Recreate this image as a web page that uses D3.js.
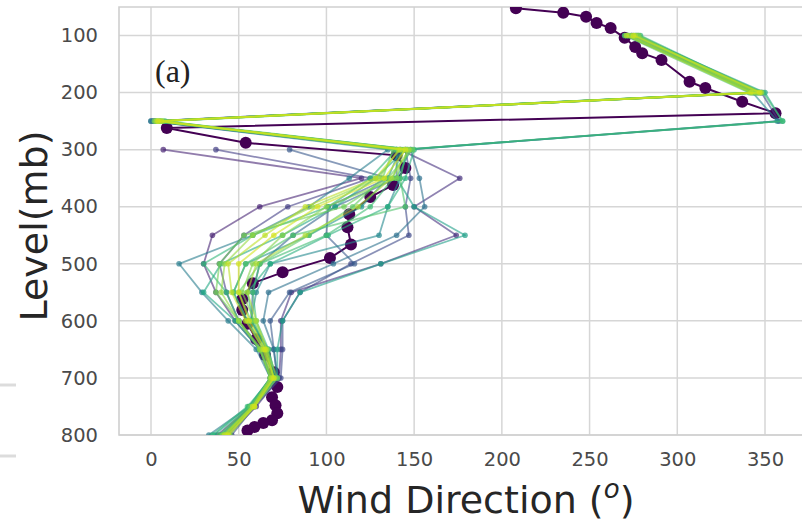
<!DOCTYPE html>
<html>
<head>
<meta charset="utf-8">
<script src="https://cdn.jsdelivr.net/npm/d3@7"></script>
<style>
  body { margin: 0; background: #fff; }
  svg { display: block; }
</style>
</head>
<body>
<svg id="chart" width="802" height="524"></svg>
<script>
// Pressure levels (mb) shared by the thin ensemble profiles
const levels = [100, 200, 250, 300, 350, 400, 450, 500, 550, 600, 650, 700, 750, 800];

// Ensemble wind-direction profiles (degrees) at the levels above; null = no report
const profileDirs = [
  [null, null, null, 7, 120, 62, 35, 30, 37, 48, 62, 68, 57, 38],
  [274, 345, 1, 142, 176, 150, 174, 131, 80, 74, 74, 73, 60, 44],
  [null, null, null, 37, 125, 78, 53, 39, 43, 50, 63, 69, 57, 40],
  [277, 348, 358, 145, 148, 145, 147, 114, 85, 75, 75, 74, 59, 46],
  [null, null, null, 79, 135, 101, 100, 116, 79, 68, 70, 72, 58, 42],
  [271, 344, 0, 140, 140, 105, 81, 62, 58, 57, 66, 70, 57, 42],
  [270, 348, 2, 148, 153, 156, 140, 104, 67, 64, 70, 72, 58, 43],
  [null, null, 0, 135, 113, 90, 58, 16, 29, 44, 60, 68, 56, 33],
  [275, 343, 357, 146, 142, 135, 130, 68, 60, 57, 67, 71, 58, 42],
  [271, 347, 2, 142, 135, 120, 90, 54, 47, 55, 65, 70, 58, 42],
  [278, 346, 5, 148, 140, 150, 179, 131, 85, 75, 72, 72, 58, 41],
  [276, 350, 360, 145, 128, 105, 75, 40, 30, 48, 62, 68, 56, 36],
  [272, 342, 3, 150, 145, 135, 101, 68, 55, 58, 66, 70, 58, 43],
  [279, 347, 8, 140, 125, 101, 58, 30, 43, 50, 62, 69, 55, 35],
  [274, 349, 360, 143, 138, 125, 100, 62, 58, 60, 67, 71, 57, 40],
  [270, 341, 6, 146, 142, 145, 81, 54, 47, 55, 64, 70, 56, 39],
  [277, 346, 4, 138, 132, 115, 90, 62, 50, 57, 65, 70, 58, 43],
  [272, 344, 7, 149, 135, 110, 53, 39, 37, 50, 63, 68, 57, 42],
  [278, 343, 2, 144, 140, 100, 75, 58, 52, 59, 66, 72, 59, 45],
  [273, 345, 5, 141, 130, 92, 58, 42, 40, 50, 62, 68, 58, 41],
  [276, 348, 3, 147, 137, 118, 88, 60, 55, 60, 66, 70, 59, 43],
  [271, 342, 6, 142, 128, 88, 65, 44, 46, 54, 64, 69, 58, 42],
  [275, 347, 4, 145, 133, 95, 70, 50, 50, 56, 65, 70, 59, 44]
];
// Position of each profile along the viridis colour map
const profileShades = [0.10, 0.14, 0.18, 0.22, 0.27, 0.32, 0.37, 0.42, 0.47, 0.52, 0.56, 0.60,
                       0.63, 0.66, 0.69, 0.72, 0.75, 0.78, 0.81, 0.84, 0.87, 0.90, 0.93];

// High-resolution sounding (bold profile)
const soundingLevels = [52, 60, 67, 78, 87, 104, 120, 131, 143, 181, 192, 216, 236,
                        262, 288, 310, 332, 362, 383, 413, 436, 466, 490, 515, 534, 562, 581,
                        605, 632, 660, 690, 716, 734, 748, 762, 774, 779, 786, 792];
const soundingDirs   = [208, 235, 248, 254, 262, 270, 276, 280, 291, 307, 316, 337, 356,
                        9, 54, 140, 145, 138, 125, 113, 112, 114, 102, 75, 58, 52, 52,
                        55, 60, 65, 70, 72, 69, 71, 72, 69, 64, 59, 55];

const xTicks = [0, 50, 100, 150, 200, 250, 300, 350];
const yTicks = [100, 200, 300, 400, 500, 600, 700, 800];

const svg = d3.select('#chart');
const plotLeft = 119, plotTop = 7, plotBottom = 435, plotRight = 830;

const x = d3.scaleLinear().domain([0, 350]).range([151, 765]);
const y = d3.scaleLinear().domain([50, 800]).range([plotTop, plotBottom]);
const colour = d3.interpolateViridis;

// stray frame edges of a neighbouring panel
svg.append('line').attr('x1', 0).attr('x2', 16).attr('y1', 385).attr('y2', 385)
  .attr('stroke', '#dcdcdc').attr('stroke-width', 3);
svg.append('line').attr('x1', 0).attr('x2', 16).attr('y1', 456).attr('y2', 456)
  .attr('stroke', '#dcdcdc').attr('stroke-width', 3);

// grid
const grid = svg.append('g');
grid.selectAll('.gx').data(xTicks).enter().append('line')
  .attr('x1', d => x(d)).attr('x2', d => x(d)).attr('y1', plotTop).attr('y2', plotBottom)
  .attr('stroke', '#d6d6d6').attr('stroke-width', 1.5);
grid.selectAll('.gy').data(yTicks).enter().append('line')
  .attr('x1', plotLeft).attr('x2', plotRight).attr('y1', d => y(d)).attr('y2', d => y(d))
  .attr('stroke', '#d6d6d6').attr('stroke-width', 1.5);

// frame
svg.append('path')
  .attr('d', `M${plotRight},${plotTop}H${plotLeft}V${plotBottom}H${plotRight}`)
  .attr('fill', 'none').attr('stroke', '#cfcfcf').attr('stroke-width', 1.6);

svg.append('clipPath').attr('id', 'plot-clip')
  .append('rect').attr('x', plotLeft).attr('y', plotTop)
  .attr('width', plotRight - plotLeft).attr('height', plotBottom - plotTop);

const plot = svg.append('g').attr('clip-path', 'url(#plot-clip)');

// bold sounding first, ensemble drawn over it
const sounding = soundingLevels.map((p, i) => ({ p, d: soundingDirs[i] }));
const lineGen = d3.line().x(d => x(d.d)).y(d => y(d.p));
plot.append('path').datum(sounding)
  .attr('d', lineGen).attr('fill', 'none')
  .attr('stroke', colour(0)).attr('stroke-width', 2);
plot.selectAll('.snd').data(sounding).enter().append('circle')
  .attr('cx', d => x(d.d)).attr('cy', d => y(d.p)).attr('r', 6)
  .attr('fill', colour(0));

profileDirs.forEach((dirs, k) => {
  const pts = levels.map((p, i) => ({ p, d: dirs[i] })).filter(d => d.d !== null);
  const c = colour(profileShades[k]);
  const g = plot.append('g');
  g.append('path').datum(pts)
    .attr('d', lineGen).attr('fill', 'none')
    .attr('stroke', c).attr('stroke-width', 1.8).attr('stroke-opacity', 0.6)
    .attr('stroke-linejoin', 'round');
  g.selectAll('circle').data(pts).enter().append('circle')
    .attr('cx', d => x(d.d)).attr('cy', d => y(d.p)).attr('r', 2.8)
    .attr('fill', c).attr('fill-opacity', 0.7);
});

// axes
const xAxis = svg.append('g').attr('transform', `translate(0,${plotBottom})`)
  .call(d3.axisBottom(x).tickValues(xTicks).tickSize(0).tickPadding(17));
const yAxis = svg.append('g').attr('transform', `translate(${plotLeft},0)`)
  .call(d3.axisLeft(y).tickValues(yTicks).tickSize(0).tickPadding(21));
[xAxis, yAxis].forEach(a => {
  a.select('.domain').remove();
  a.selectAll('text').attr('font-family', 'DejaVu Sans').attr('font-size', 19.5).attr('fill', '#4a4a4a');
});

// titles
const xTitle = svg.append('text')
  .attr('x', 466).attr('y', 513).attr('text-anchor', 'middle')
  .attr('font-family', 'DejaVu Sans').attr('font-size', 38).attr('fill', '#262626');
xTitle.append('tspan').text('Wind Direction (');
xTitle.append('tspan').attr('font-size', 26).attr('font-style', 'italic').attr('dy', -15).text('o');
xTitle.append('tspan').attr('dy', 15).text(')');

svg.append('text')
  .attr('transform', 'translate(47,226) rotate(-90)').attr('text-anchor', 'middle')
  .attr('font-family', 'DejaVu Sans').attr('font-size', 38).attr('fill', '#262626')
  .text('Level(mb)');

svg.append('text')
  .attr('x', 155).attr('y', 82)
  .attr('font-family', 'Liberation Serif').attr('font-size', 32).attr('fill', '#222')
  .text('(a)');
</script>
</body>
</html>
